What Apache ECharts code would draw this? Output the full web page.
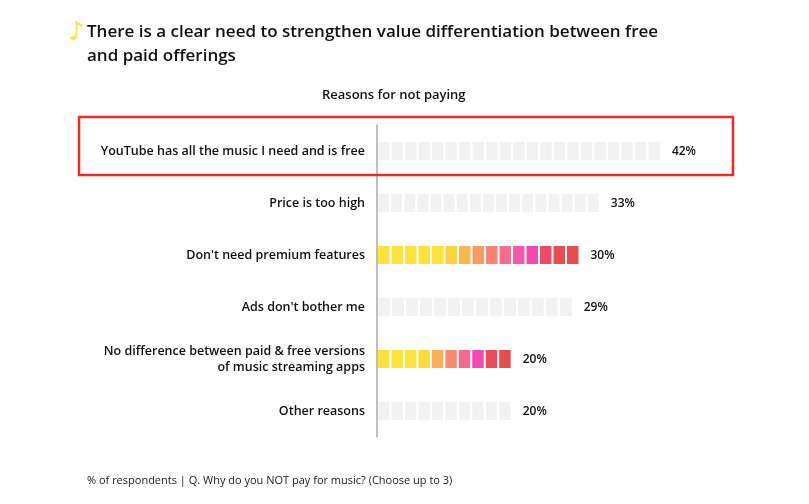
<!DOCTYPE html>
<html><head><meta charset="utf-8">
<script src="https://cdn.jsdelivr.net/npm/echarts@6/dist/echarts.min.js"></script>
<style>html,body{margin:0;padding:0;background:#fff}#c{width:809px;height:504px}</style>
</head><body><div id="c"></div>
<script>
const categories = ["YouTube has all the music I need and is free","Price is too high","Don't need premium features","Ads don't bother me","No difference between paid & free versions\nof music streaming apps","Other reasons"];
const values = [42,33,30,29,20,20];
const highlighted = [false,false,true,false,true,false];

const stops = ['#FFE23A','#FFE23A','#FFE23A','#FFE23A','#FFE23A','#FFC83E','#F9A85A','#F98D67','#F7767F','#F6609E','#F548C4','#EE4A6E','#E84C4C','#E84C4C'];
function hex(c){return [parseInt(c.slice(1,3),16),parseInt(c.slice(3,5),16),parseInt(c.slice(5,7),16)];}
function colAt(t){
  const p=t*(stops.length-1), i=Math.min(Math.floor(p),stops.length-2), f=p-i;
  const a=hex(stops[i]), b=hex(stops[i+1]);
  return 'rgb('+a.map((v,k)=>Math.round(v+(b[k]-v)*f)).join(',')+')';
}
const chart = echarts.init(document.getElementById('c'));
chart.setOption({
  animation:false,
  graphic:[
    {type:'text',left:87,top:20,style:{text:'There is a clear need to strengthen value differentiation between free\nand paid offerings',font:'600 17px "Open Sans", sans-serif',fill:'#111',lineHeight:24}},
    {type:'text',left:68,top:20,style:{text:'♪',font:'bold 26px "DejaVu Sans"',fill:'#FFE23A'}},
    {type:'text',left:322,top:89,style:{text:'Reasons for not paying',font:'600 13px "Open Sans", sans-serif',fill:'#111'}},
    {type:'text',left:87,top:475,style:{text:'% of respondents | Q. Why do you NOT pay for music? (Choose up to 3)',font:'11px "Open Sans", sans-serif',fill:'#222'}},
    {type:'rect',shape:{x:79,y:117,width:654,height:58},style:{fill:'none',stroke:'#EE2A24',lineWidth:2.5},z:10}
  ],
  grid:{left:377,right:25,top:125,bottom:67},
  xAxis:{type:'value',min:0,max:60,show:false},
  yAxis:{type:'category',data:categories,inverse:true,
    axisLine:{show:true,lineStyle:{color:'#A8A8B4',width:1.5}},axisTick:{show:false},
    axisLabel:{margin:12,fontSize:12.5,color:'#111',fontFamily:'"Open Sans", sans-serif',fontWeight:600,lineHeight:16,align:'right'}},
  series:[{type:'custom',data:values.map((v,i)=>[v,i]),encode:{x:0,y:1},
    renderItem:function(params,api){
      const v=api.value(0), i=api.value(1);
      const s=api.coord([0,i]), e=api.coord([v,i]);
      const h=18, len=e[0]-s[0]-1;
      const n=Math.max(1,Math.round(len/13.5)), bw=len/n;
      const ch=[];
      for(let k=0;k<n;k++){
        ch.push({type:'rect',shape:{x:s[0]+1+k*bw,y:s[1]-h/2,width:bw-2,height:h},
          style:{fill:highlighted[i]?colAt(k/(n-1)):'#F2F2F2'}});
      }
      ch.push({type:'text',style:{text:v+'%',x:e[0]+10,y:s[1]+1,verticalAlign:'middle',font:'600 12px "Open Sans", sans-serif',fill:'#111'}});
      return {type:'group',children:ch};
    }}]
});
</script></body></html>
